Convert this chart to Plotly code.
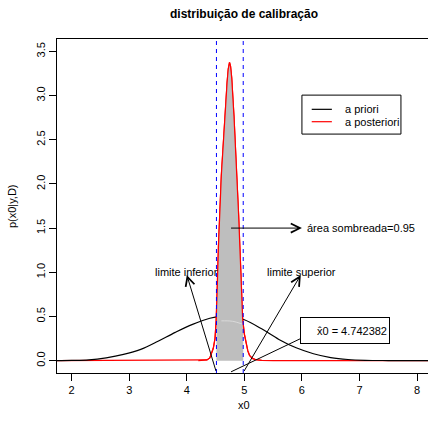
import numpy as np
import plotly.graph_objects as go

# ---- data ----
prior_x = [1.7, 2.0, 2.3, 2.6, 2.9, 3.2, 3.5, 3.8, 4.1, 4.4, 4.6, 4.7, 4.8, 5.0, 5.3, 5.6, 5.9, 6.2, 6.5, 6.8, 7.1, 7.5, 8.0, 8.3]
prior_y = [0.001, 0.003, 0.009, 0.032, 0.07, 0.128, 0.22, 0.32, 0.41, 0.48, 0.5, 0.5, 0.495, 0.462, 0.36, 0.24, 0.145, 0.078, 0.035, 0.013, 0.004, 0.001, 0.0, 0.0]

post_x = [1.7, 4.2, 4.3, 4.35, 4.4, 4.43, 4.46, 4.49, 4.51, 4.53, 4.55, 4.6, 4.65, 4.7, 4.72, 4.742, 4.76, 4.78,
          4.82, 4.86, 4.9, 4.93, 4.95, 4.97, 5.0, 5.03, 5.06, 5.09, 5.14, 5.2, 5.3, 5.5, 8.3]
post_y = [0, 0, 0.003, 0.008, 0.03, 0.076, 0.14, 0.25, 0.45, 0.85, 1.3, 2.1, 2.68, 3.15, 3.3, 3.375, 3.33, 3.2,
          2.76, 2.25, 1.65, 1.15, 0.8, 0.47, 0.3, 0.2, 0.11, 0.06, 0.025, 0.01, 0.003, 0, 0]

lim_inf = 4.515
lim_sup = 4.98
x0_hat = 4.742382
area = 0.95

x_ticks = [2, 3, 4, 5, 6, 7, 8]
y_ticks = [0.0, 0.5, 1.0, 1.5, 2.0, 2.5, 3.0, 3.5]

FONT = "Liberation Sans, Arial, sans-serif"

px_ = np.array(post_x, dtype=float)
py_ = np.array(post_y, dtype=float)
prx = np.array(prior_x, dtype=float)
pry = np.array(prior_y, dtype=float)

# shaded polygon under the posterior between the limits
m = (px_ > lim_inf) & (px_ < lim_sup)
y_lo = float(np.interp(lim_inf, px_, py_))
y_hi = float(np.interp(lim_sup, px_, py_))
poly_x = [lim_inf, lim_inf] + list(px_[m]) + [lim_sup, lim_sup]
poly_y = [0, y_lo] + list(py_[m]) + [y_hi, 0]

fig = go.Figure()
fig.add_trace(go.Scatter(x=post_x, y=post_y, mode="lines", line=dict(color="red", width=1.2),
                         hoverinfo="skip", showlegend=False))
fig.add_trace(go.Scatter(x=prior_x, y=prior_y, mode="lines", line=dict(color="black", width=1.2, shape="spline"),
                         hoverinfo="skip", showlegend=False))
fig.add_trace(go.Scatter(x=poly_x, y=poly_y, mode="lines", fill="toself", fillcolor="#bebebe",
                         line=dict(width=0), hoverinfo="skip", showlegend=False))
mp = (prx >= lim_inf - 0.1) & (prx <= lim_sup + 0.1)
fig.add_trace(go.Scatter(x=list(prx[mp]), y=list(pry[mp] - 0.05), mode="lines",
                         line=dict(color="#dadada", width=1, shape="spline"), hoverinfo="skip", showlegend=False,
                         ))
mr = (px_ >= lim_inf - 0.35) & (px_ <= lim_sup + 0.35)
fig.add_trace(go.Scatter(x=list(px_[mr]), y=list(py_[mr]), mode="lines", line=dict(color="red", width=1.2),
                         hoverinfo="skip", showlegend=False))

# clip the light line to the shaded area
fig.data[3].x = tuple(list(np.clip(np.array(fig.data[3].x), lim_inf + 0.005, lim_sup - 0.005)))

shapes = []
for xv in (lim_inf, lim_sup):
    shapes.append(dict(type="line", xref="x", yref="paper", x0=xv, x1=xv, y0=0, y1=1,
                       line=dict(color="blue", width=1, dash="4px,4px"), layer="above"))
# legend box
shapes.append(dict(type="rect", xref="x", yref="y", x0=6.0, x1=7.72, y0=2.564, y1=3.005,
                   line=dict(color="black", width=1), fillcolor="white", layer="above"))
shapes.append(dict(type="line", xref="x", yref="y", x0=6.17, x1=6.52, y0=2.844, y1=2.844,
                   line=dict(color="black", width=1.2), layer="above"))
shapes.append(dict(type="line", xref="x", yref="y", x0=6.17, x1=6.52, y0=2.704, y1=2.704,
                   line=dict(color="red", width=1.2), layer="above"))

ann = []
def arrow(xh, yh, xt, yt):
    ann.append(dict(x=xh, y=yh, ax=xt, ay=yt, xref="x", yref="y", axref="x", ayref="y", text="",
                    showarrow=True, arrowhead=5, arrowsize=1.8, arrowwidth=1, arrowcolor="black", standoff=0))

arrow(6.0, 1.5, x0_hat, 1.5)
arrow(4.0, 0.97, lim_inf, -0.135)
arrow(5.98, 0.97, lim_sup, -0.135)
arrow(6.3, 0.35, x0_hat, -0.135)

def txt(x, y, s, xa="center", size=11, **kw):
    d = dict(x=x, y=y, xref="x", yref="y", text=s, showarrow=False, xanchor=xa, yanchor="middle",
             font=dict(family=FONT, size=size, color="black"))
    d.update(kw)
    ann.append(d)

txt(6.05, 1.5, f"área sombreada={area}", xa="left")
txt(4.0, 1.0, "limite inferior")
txt(6.0, 1.0, "limite superior")
txt(6.72, 2.844, "a priori", xa="left")
txt(6.72, 2.704, "a posteriori", xa="left")
ann.append(dict(x=5.96, y=0.346, xref="x", yref="y", text=f"x\u03020 = {x0_hat}", showarrow=False,
                xanchor="left", yanchor="middle", align="right", width=84, height=21, borderpad=2,
                bordercolor="black", borderwidth=1, bgcolor="white",
                font=dict(family=FONT, size=11, color="black")))

# titles
ann.append(dict(x=0.504, y=1.075, xref="paper", yref="paper", text="<b>distribuição de calibração</b>",
                showarrow=False, xanchor="center", yanchor="middle",
                font=dict(family=FONT, size=12, color="black")))
ann.append(dict(x=0.504, y=-0.096, xref="paper", yref="paper", text="x0", showarrow=False,
                xanchor="center", yanchor="middle", font=dict(family=FONT, size=11, color="black")))
ann.append(dict(x=-0.121, y=0.5, xref="paper", yref="paper", text="p(x0|y,D)", showarrow=False,
                textangle=-90, xanchor="center", yanchor="middle", font=dict(family=FONT, size=11, color="black")))

fig.update_layout(
    width=428, height=423,
    margin=dict(l=57, r=0, t=39, b=50),
    paper_bgcolor="white", plot_bgcolor="white",
    font=dict(family=FONT, size=11, color="black"),
    shapes=shapes, annotations=ann, showlegend=False,
    xaxis=dict(range=[1.745, 8.19], tickvals=x_ticks, ticks="outside", ticklen=7, tickcolor="black",
               showline=True, linecolor="black", linewidth=1, mirror=True, showgrid=False, zeroline=False,
               tickfont=dict(family=FONT, size=11)),
    yaxis=dict(range=[-0.14, 3.64], tickvals=y_ticks, tickformat=".1f", ticks="outside", ticklen=7,
               tickcolor="black", showline=True, linecolor="black", linewidth=1, mirror=False,
               showgrid=False, zeroline=False, tickangle=-90, tickfont=dict(family=FONT, size=11)),
)

fig.write_html("out.html")
